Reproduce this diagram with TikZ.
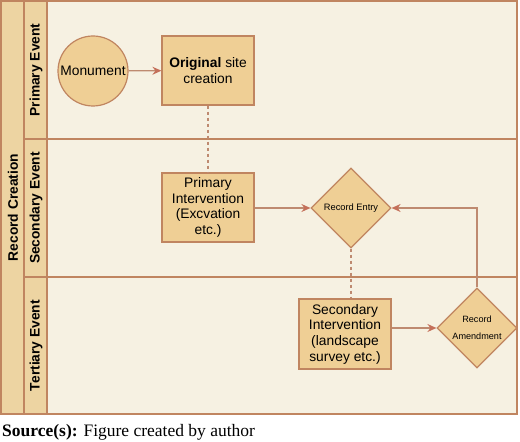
\documentclass[tikz,border=0pt]{standalone}
\usepackage{fontspec}
\setmainfont{Liberation Serif}
\newfontfamily\arialfont{Liberation Sans}
\usetikzlibrary{shapes.geometric,arrows.meta}
\definecolor{lanebg}{HTML}{F6F1E2}
\definecolor{headbg}{HTML}{EDD4A2}
\definecolor{nodefill}{HTML}{EFCF95}
\definecolor{edgecol}{HTML}{C08560}
\definecolor{linecol}{HTML}{BE8A70}
\definecolor{tipcol}{HTML}{C4705A}
\tikzset{
  lane/.style={draw=edgecol, line width=1.2bp, fill=lanebg},
  head/.style={draw=edgecol, line width=1.2bp, fill=headbg},
  headtext/.style={rotate=90, font=\arialfont\bfseries\fontsize{13.8bp}{15.7bp}\selectfont, inner sep=0},
  boxnode/.style={draw=edgecol, line width=1.2bp, fill=nodefill, align=center, inner sep=0,
    font=\arialfont\fontsize{13.8bp}{15.7bp}\selectfont},
  roundnode/.style={circle, draw=edgecol, line width=1.2bp, fill=nodefill, inner sep=0,
    minimum size=70bp, font=\arialfont\fontsize{13.8bp}{15.7bp}\selectfont},
  decnode/.style={diamond, aspect=1, draw=edgecol, line width=1.2bp, fill=nodefill, inner sep=0,
    minimum width=80bp, minimum height=80bp, align=center},
  flow/.style={draw=linecol, line width=1.2bp, -{Stealth[length=9bp,width=8bp,inset=3bp,color=tipcol]}},
  link/.style={draw=linecol, line width=1.2bp, dash pattern=on 3bp off 3bp}
}
\begin{document}
\begin{tikzpicture}[x=1bp,y=-1bp]
\useasboundingbox (0,0) rectangle (520,442);
\fill[white] (0,0) rectangle (520,442);
% lanes
\path[lane] (47,1) rectangle (517,139);
\path[lane] (47,139) rectangle (517,277);
\path[lane] (47,277) rectangle (517,414);
% headers
\path[head] (1,1) rectangle (24,414);
\path[head] (24,1) rectangle (47,139);
\path[head] (24,139) rectangle (47,277);
\path[head] (24,277) rectangle (47,414);
\node[headtext] (rc) at (13,207.5) {Record Creation};
\node[headtext] (pe) at (36,70) {Primary Event};
\node[headtext] (se) at (36,208) {Secondary Event};
\node[headtext] (te) at (36,345.5) {Tertiary Event};
% nodes
\node[roundnode] (mon) at (93,71) {Monument};
\node[boxnode, minimum width=92bp, minimum height=69bp] (orig) at (208,70.5) {\textbf{Original} site\\creation};
\node[boxnode, minimum width=92bp, minimum height=69bp] (pint) at (208,207.5) {Primary\\Intervention\\(Excvation\\etc.)};
\node[decnode, font=\arialfont\fontsize{9.3bp}{11bp}\selectfont] (rent) at (351,208) {Record Entry};
\node[boxnode, minimum width=92bp, minimum height=70bp] (sint) at (345,334) {Secondary\\Intervention\\(landscape\\survey etc.)};
\node[decnode, font=\arialfont\fontsize{9.1bp}{17bp}\selectfont] (ramd) at (477,328) {\raisebox{-2.5bp}{Record}\\\raisebox{-2.5bp}{Amendment}};
% connectors
\draw[flow] (mon) -- (orig);
\draw[link] (orig.south) -- (pint.north);
\draw[flow] (pint.east |- rent.west) -- (rent.west);
\draw[link] (rent.south) -- (rent.south |- sint.north);
\draw[flow] (sint.east |- ramd.west) -- (ramd.west);
\draw[flow] (ramd.north) |- (rent.east);
% source
\node[anchor=base west, inner sep=0, font=\fontsize{17.5bp}{20bp}\selectfont] (src) at (2,436.5) {\textbf{Source(s):} Figure created by author};
\end{tikzpicture}
\end{document}
